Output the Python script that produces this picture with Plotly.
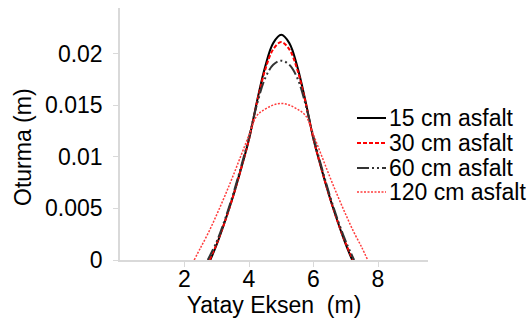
import plotly.graph_objects as go

# Data (x in m, settlement in m)
x_15 = [2.8, 3.0, 3.25, 3.5, 3.75, 4.0, 4.25, 4.5, 4.75, 5.0, 5.25, 5.5, 5.75, 6.0, 6.25, 6.5, 6.75, 7.0, 7.2]
y_15 = [0.0, 0.0015, 0.0037, 0.0061, 0.0088, 0.0117, 0.0154, 0.0187, 0.0210, 0.0218,
        0.0210, 0.0187, 0.0154, 0.0117, 0.0088, 0.0061, 0.0037, 0.0015, 0.0]

x_30 = [2.78, 3.0, 3.25, 3.5, 3.75, 4.0, 4.25, 4.5, 4.75, 5.0, 5.25, 5.5, 5.75, 6.0, 6.25, 6.5, 6.75, 7.0, 7.22]
y_30 = [0.0, 0.0016, 0.0037, 0.0061, 0.0088, 0.0117, 0.0153, 0.0184, 0.0204, 0.0211,
        0.0204, 0.0184, 0.0153, 0.0117, 0.0088, 0.0061, 0.0037, 0.0016, 0.0]

x_60 = [2.72, 3.0, 3.25, 3.5, 3.75, 4.0, 4.25, 4.5, 4.75, 5.0, 5.25, 5.5, 5.75, 6.0, 6.25, 6.5, 6.75, 7.0, 7.26]
y_60 = [0.0, 0.0018, 0.0039, 0.0063, 0.0090, 0.0119, 0.0151, 0.0176, 0.0189, 0.0193,
        0.0189, 0.0176, 0.0151, 0.0119, 0.0090, 0.0063, 0.0039, 0.0018, 0.0]

x_120 = [2.3, 2.5, 2.75, 3.0, 3.25, 3.5, 3.75, 4.0, 4.25, 4.5, 4.75, 5.0,
         5.25, 5.5, 5.75, 6.0, 6.25, 6.5, 6.75, 7.0, 7.25, 7.5, 7.68]
y_120 = [0.0, 0.0012, 0.0027, 0.0044, 0.0062, 0.0081, 0.0101, 0.0121, 0.0140, 0.0146, 0.0150, 0.01516,
         0.0150, 0.0146, 0.0140, 0.0121, 0.0101, 0.0081, 0.0062, 0.0044, 0.0027, 0.0012, 0.0]

series_names = ["15 cm asfalt", "30 cm asfalt", "60 cm asfalt", "120 cm asfalt"]
x_ticks = [2, 4, 6, 8]
y_ticks = [0, 0.005, 0.01, 0.015, 0.02]
y_tick_text = ["0", "0.005", "0.01", "0.015", "0.02"]

FONT = "Liberation Sans, Arial, sans-serif"
styles = [
    dict(color="#000000", width=2, dash="solid"),
    dict(color="#ff0000", width=2, dash="4px,2px"),
    dict(color="#333333", width=2, dash="12px,3px,2px,3px,2px,3px"),
    dict(color="#ff3c3c", width=1.5, dash="2px,1.5px"),
]

fig = go.Figure()
for xs, ys, name, st in zip([x_15, x_30, x_60, x_120], [y_15, y_30, y_60, y_120], series_names, styles):
    fig.add_trace(go.Scatter(x=xs, y=ys, mode="lines", name=name, line=dict(shape="spline", **st),
                             showlegend=False))

# Manual legend (annotations + sample lines in paper coordinates)
plot_l, plot_w, plot_t, plot_h = 120, 308, 8, 252
def px(x):
    return (x - plot_l) / plot_w
def py(y):
    return 1 - (y - plot_t) / plot_h

legend_y = [118, 143, 168, 192]
for name, st, yy in zip(series_names, styles, legend_y):
    fig.add_shape(type="line", xref="paper", yref="paper", x0=px(357), x1=px(386), y0=py(yy), y1=py(yy),
                  line=dict(color=st["color"], width=st["width"], dash=st["dash"]))
    fig.add_annotation(xref="paper", yref="paper", x=px(387), y=py(yy), xanchor="left", yanchor="middle",
                       text=name, showarrow=False, font=dict(family=FONT, size=23, color="#000"))

# Y-axis title (placed as in the reference, slightly below the plot centre)
fig.add_annotation(xref="paper", yref="paper", x=px(23), y=py(147), xanchor="center", yanchor="middle",
                   textangle=-90, text="Oturma (m)", showarrow=False,
                   font=dict(family=FONT, size=23, color="#000"))

fig.update_layout(
    width=532, height=321,
    margin=dict(l=plot_l, r=532 - plot_l - plot_w, t=plot_t, b=321 - plot_t - plot_h),
    paper_bgcolor="white", plot_bgcolor="white",
    font=dict(family=FONT, size=23, color="#000"),
    showlegend=False,
)
fig.update_xaxes(range=[0, 9.55], tickvals=x_ticks, showgrid=False, zeroline=False, automargin=False,
                 showline=True, linecolor="#d9d9d9", linewidth=1.5,
                 ticks="outside", ticklen=5, tickcolor="#d9d9d9", ticklabelstandoff=-7,
                 title=dict(text="Yatay Eksen  (m)", standoff=4, font=dict(size=23)))
fig.update_yaxes(range=[0, 0.0244], tickvals=y_ticks, ticktext=y_tick_text, showgrid=False, zeroline=False,
                 automargin=False,
                 showline=True, linecolor="#d9d9d9", linewidth=1.5,
                 ticks="outside", ticklen=5, tickcolor="#d9d9d9", ticklabelstandoff=6)

fig.write_html("out.html", config={"displayModeBar": False},
               post_script="document.body.style.margin='0px';document.body.style.overflow='hidden';")
